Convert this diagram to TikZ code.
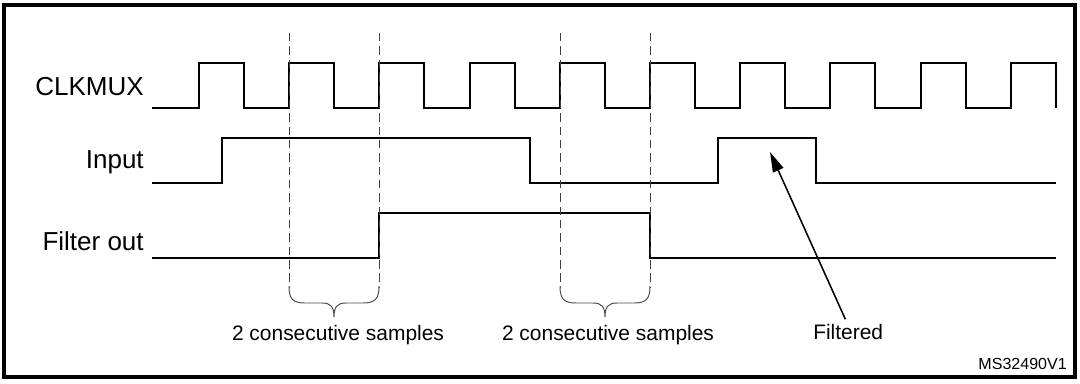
\documentclass[tikz,border=0pt]{standalone}
\usepackage{fontspec}
\setmainfont{Liberation Sans}
\usetikzlibrary{positioning,arrows.meta}
\tikzset{
  sig/.style={line width=1.5pt,line join=miter},
  guide/.style={dash pattern=on 6pt off 3.5pt,line width=0.6pt,black!75},
  brc/.style={line width=0.7pt,black!70},
  lab/.style={inner sep=0pt,font=\fontsize{18.5}{20}\selectfont},
  note/.style={inner sep=0pt,font=\fontsize{14.9}{17}\selectfont},
  arr/.style={-{Triangle[length=5mm,width=2.8mm]},line width=1.1pt},
}

\begin{document}
\begin{tikzpicture}[x=0.025cm,y=-0.025cm]
\useasboundingbox (0,0) rectangle (1080,383);
\draw[line width=2.2pt] (4,5) rectangle (1075,377);
% signal names
\node[lab,anchor=base east] (clk) at (144,95) {CLKMUX};
\node[lab,anchor=base east] (inp) at (144,168) {Input};
\node[lab,anchor=base east] (fout) at (144,250) {Filter out};
% waveforms
\draw[sig] (152,108) foreach \k in {0,...,9} {
  -- ({199+90.2*\k},108) -- ++(0,-45) -- ++(45,0) -- ++(0,45)};
\draw[sig] (152,183) -- (222,183) -- (222,138) -- (530,138) -- (530,183)
  -- (718,183) -- (718,138) -- (816,138) -- (816,183) -- (1056,183);
\draw[sig] (152,258) -- (379,258) -- (379,213) -- (650,213) -- (650,258) -- (1056,258);
% sampling windows
\foreach \a/\b/\n in {289/379/1,560/650/2} {
  \draw[guide] (\a,33) -- (\a,288);
  \draw[guide] (\b,33) -- (\b,288);
  \coordinate (tip\n) at ({(\a+\b)/2},317);
  \draw[brc] (\a,286) .. controls (\a,299) and ({\a+4},303) .. ({\a+16},303)
    -- ({(\a+\b)/2-12},303) .. controls ({(\a+\b)/2-3},303) and ({(\a+\b)/2},307) .. (tip\n)
    .. controls ({(\a+\b)/2},307) and ({(\a+\b)/2+3},303) .. ({(\a+\b)/2+12},303)
    -- ({\b-16},303) .. controls ({\b-4},303) and (\b,299) .. (\b,286);
}
\node[note,anchor=base] (sam1) at (338,340) {2 consecutive samples};
\node[note,anchor=base] (sam2) at (608,340) {2 consecutive samples};
% filtered glitch
\coordinate (pulse) at (770,152);
\node[note,anchor=base west] (filt) at (813,339) {Filtered};
\draw[arr] ([xshift=-2pt,yshift=3pt]filt.north) -- (pulse);
\node[inner sep=0pt,anchor=base east,font=\fontsize{11.4}{13}\selectfont] (ref) at (1067,369) {MS32490V1};
\end{tikzpicture}
\end{document}
